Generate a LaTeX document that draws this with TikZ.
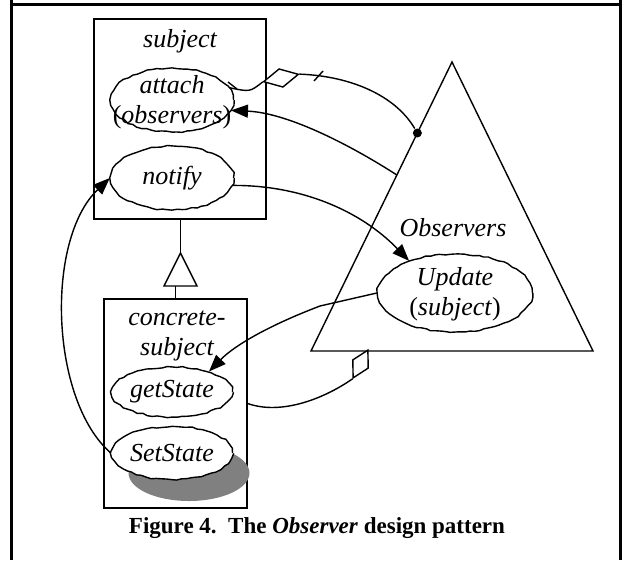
\documentclass[tikz,border=0pt]{standalone}
\usepackage{fontspec}
\setmainfont{Liberation Serif}
\usetikzlibrary{shapes.geometric, arrows.meta, decorations.pathmorphing, calc}
\definecolor{shade}{RGB}{128,128,128}
\begin{document}
\begin{tikzpicture}[x=1pt, y=-1pt, line width=1.4pt,
  box/.style={draw, rectangle, inner sep=0pt},
  oval/.style={draw, ellipse, fill=white, inner sep=0pt, line width=1.4pt,
    decorate, decoration={random steps, segment length=5pt, amplitude=0.8pt}},
  lbl/.style={font=\fontsize{26}{30}\selectfont\itshape, align=center, inner sep=0pt},
  agg/.style={diamond, draw, fill=white, inner sep=0pt},
  arr/.style={-{Triangle[length=17pt, width=13pt]}},
  frame/.style={line width=3pt},
]
\pgfmathsetseed{7}
\useasboundingbox (0,0) rectangle (623,560);

% page frame
\draw[frame] (11.5,0) -- (11.5,560);
\draw[frame] (620.5,0) -- (620.5,560);
\draw[frame] (11.5,4.5) -- (620.5,4.5);

% class boxes
\node[box, minimum width=172pt, minimum height=200pt] (subj) at (180,119) {};
\node[box, minimum width=143pt, minimum height=209pt] (conc) at (175.5,403.5) {};

% generalisation triangle
\coordinate (genTop) at (180.5,253);
\coordinate (genL) at (164,286);
\coordinate (genR) at (197,286);
\draw (subj.south -| genTop) -- (genTop);
\draw[fill=white] (genTop) -- (genL) -- (genR) -- cycle;
\draw (conc.north) -- (conc.north |- genL);

% Observers triangle
\coordinate (apex) at (452,62);
\coordinate (bl) at (311,351);
\coordinate (br) at (593,351);
\draw (apex) -- (bl) -- (br) -- cycle;

% operations
\node[oval, minimum width=123pt, minimum height=64pt] (attach) at (172,100) {};
\node[oval, minimum width=123pt, minimum height=64pt] (notify) at (172,178) {};
\node[oval, minimum width=121pt, minimum height=50pt] (getState) at (172,392) {};
\node[ellipse, fill=shade, inner sep=0pt, minimum width=121pt, minimum height=56pt] (setShadow) at (189,473) {};
\node[oval, minimum width=121pt, minimum height=53pt] (setState) at (172,453) {};
\node[oval, minimum width=155pt, minimum height=78pt] (update) at (455,293) {};

% labels
\node[lbl] (subjT) at (180,41) {subject};
\node[lbl] (attachT) at (172,102) {attach\\\textup{(}observers\textup{)}};
\node[lbl] (notifyT) at (172,178) {notify};
\node[lbl] (concT) at (177,336) {concrete-\\subject};
\node[lbl] (getT) at (172,392) {getState};
\node[lbl] (setT) at (172,453) {SetState};
\node[lbl] (obsT) at (453,228) {Observers};
\node[lbl] (updT) at (455,294) {Update\\\textup{(}subject\textup{)}};

% aggregation subject -> observers
\node[agg, minimum width=36pt, minimum height=19pt, rotate=12] (agg1) at (281,78) {};
\node[circle, fill, inner sep=0pt, minimum size=9pt] (obsdot) at ($(apex)!0.2457!(bl)$) {};
\draw (attach.12) .. controls (250,92) .. (agg1.west);
\draw (agg1.east) .. controls (350,76) and (395,95) .. (obsdot);
\draw (228,82) -- (237,89);
\draw (314,81) -- (323,71);

% attach call from observers
\draw[arr] ($(apex)!0.391!(bl)$) .. controls (355,148) and (290,113) .. (attach.-10);

% notify -> update
\draw[arr] (notify.-7) .. controls (300,185) and (360,210) .. (update.145);

% update -> getState
\coordinate (bend) at (320,306);
\draw[arr] (update.west) -- (bend) .. controls (270,325) and (235,345) .. (getState.29);

% concrete subject -> observers
\node[agg, minimum width=32pt, minimum height=18pt, rotate=62] (agg2) at (360.5,364) {};
\draw (conc.east) .. controls (280,415) and (322,400) .. (agg2.west);

% setState -> notify
\draw[arr] (setState.west) .. controls (50,400) and (45,240) .. (notify.west);

% caption
\node[font=\fontsize{23}{27}\selectfont\bfseries, inner sep=0pt] (cap) at (317,528)
  {Figure 4.\ \ The \textit{Observer} design pattern};
\end{tikzpicture}
\end{document}
